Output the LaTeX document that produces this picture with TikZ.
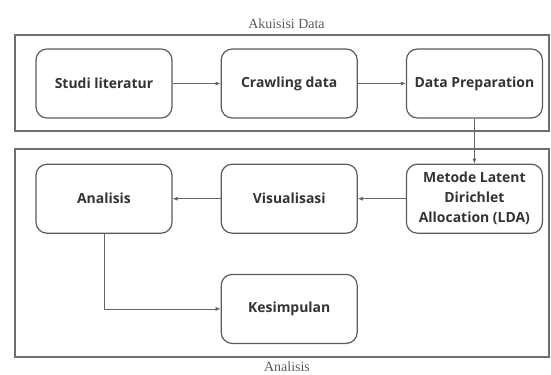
\documentclass[tikz,border=0pt]{standalone}
\usepackage{fontspec}
\setmainfont{Liberation Serif}
\newfontfamily\boxfont{Open Sans}
\usepackage{xcolor}
\usetikzlibrary{arrows.meta,positioning}

\definecolor{framegray}{HTML}{6E6E6E}
\definecolor{boxgray}{HTML}{5A5A5A}
\definecolor{textgray}{HTML}{333333}

\begin{document}
\begin{tikzpicture}[x=1bp, y=-1bp,
    node distance=45bp and 48bp,
    stepbox/.style={rectangle, draw=boxgray, rounded corners=11bp, line width=1.2bp, minimum width=136bp, minimum height=69bp, align=center, text=textgray, font=\boxfont\bfseries\fontsize{14}{20}\selectfont, inner sep=2bp},
    frame/.style={draw=framegray, line width=1.8bp},
    lbl/.style={text=black!65, font=\fontsize{14}{16}\selectfont},
    arrow/.style={-{Latex[length=5bp,width=4bp]}, draw=black!60, line width=0.7bp}
]
\useasboundingbox (0,0) rectangle (551,374);
% two stage frames
\draw[frame] (15,35) rectangle (549,131);
\draw[frame] (15,149) rectangle (549,357);
\node (akuisisi) [lbl] at (286.5,24) {Akuisisi Data};
\node (analisislbl) [lbl] at (287,367) {Analisis};
% steps
\node (studi) [stepbox] at (104,83.5) {Studi literatur};
\node (crawl) [stepbox, right=of studi] {Crawling data};
\node (prep) [stepbox, right=of crawl] {Data Preparation};
\node (lda) [stepbox, below=of prep] {Metode Latent\\Dirichlet\\Allocation (LDA)};
\node (visual) [stepbox, left=of lda] {Visualisasi};
\node (analisis) [stepbox, left=of visual] {Analisis};
\node (simpul) [stepbox, below=40bp of visual] {Kesimpulan};
\draw[arrow] (studi) -- (crawl);
\draw[arrow] (crawl) -- (prep);
\draw[arrow] (prep) -- (lda);
\draw[arrow] (lda) -- (visual);
\draw[arrow] (visual) -- (analisis);
\draw[arrow] (analisis.south) |- (simpul.west);
\end{tikzpicture}
\end{document}
